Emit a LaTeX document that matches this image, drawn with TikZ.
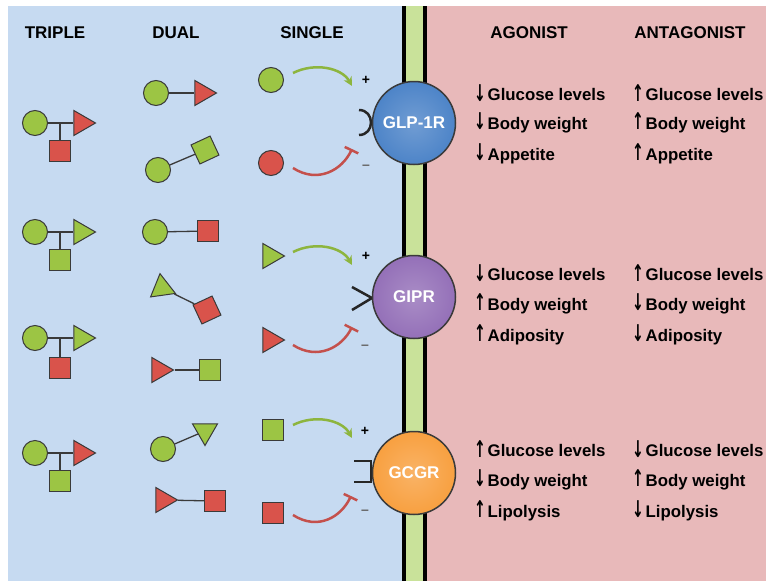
\documentclass[tikz,border=0pt]{standalone}
\usepackage{fontspec}
\usepackage{graphicx}
\setmainfont{Liberation Sans}
\newfontfamily\arrfont{DejaVu Sans}
\usetikzlibrary{shapes.geometric,arrows.meta}
\definecolor{bgblue}{HTML}{C6DAF1}
\definecolor{bgpink}{HTML}{E8B9BA}
\definecolor{memgreen}{HTML}{C9E29A}
\definecolor{lgreen}{HTML}{9CC544}
\definecolor{lred}{HTML}{D9534B}
\definecolor{agreen}{HTML}{8DB53E}
\definecolor{ared}{HTML}{C4504C}
\definecolor{rblue}{HTML}{4D84C8}
\definecolor{rpurple}{HTML}{9470B8}
\definecolor{rorange}{HTML}{F8A040}
\definecolor{edgec}{HTML}{3A3A3A}
\newcommand\dnar{\makebox[13.5pt][l]{\raisebox{-0.5pt}{\scalebox{1}[1.65]{\arrfont\bfseries\fontsize{14}{16}\selectfont ↓}}}}
\newcommand\upar{\makebox[13.5pt][l]{\raisebox{-0.5pt}{\scalebox{1}[1.65]{\arrfont\bfseries\fontsize{14}{16}\selectfont ↑}}}}
\begin{document}
\begin{tikzpicture}[x=1pt,y=-1pt,
  lig/.style={draw=edgec, line width=1pt, inner sep=0pt},
  circ/.style={lig, circle, minimum size=25pt},
  sq/.style={lig, rectangle, minimum size=21pt},
  tri/.style={lig, regular polygon, regular polygon sides=3, minimum size=29pt, shape border rotate=#1},
  tri/.default=-90,
  link/.style={draw=edgec, line width=1.3pt},
  hdr/.style={font=\fontsize{17}{19}\selectfont\bfseries, inner sep=0pt},
  eff/.style={font=\fontsize{16.8}{19}\selectfont\bfseries, anchor=west, inner sep=0pt},
  sign/.style={font=\fontsize{14}{15}\selectfont\bfseries, inner sep=0pt},
  rec/.style={circle, draw=edgec, line width=1.5pt, minimum size=83pt, inner sep=0pt, text=white, font=\fontsize{17}{19}\selectfont\bfseries},
  act/.style={draw=agreen, line width=2.5pt, -{Stealth[length=9pt,width=9pt]}},
  inh/.style={draw=ared, line width=2.5pt, -{Bar[width=15pt]}},
  site/.style={draw=black!85, line width=2.5pt}
]
\useasboundingbox (0,0) rectangle (766,581);
% background
\fill[white] (0,0) rectangle (766,581);
\fill[bgblue] (8,6) rectangle (404,581);
\fill[bgpink] (425,6) rectangle (766,581);
\fill[memgreen] (404,6) rectangle (425,581);
\draw[black, line width=3.5pt] (404,6) -- (404,581);
\draw[black, line width=3.5pt] (425,6) -- (425,581);

% headers
\node[hdr] (hT) at (55,33) {TRIPLE};
\node[hdr] (hD) at (176,33) {DUAL};
\node[hdr] (hS) at (312,33) {SINGLE};
\node[hdr] (hA) at (529,33) {AGONIST};
\node[hdr] (hN) at (690,33) {ANTAGONIST};

% triple
\node[circ, fill=lgreen] (t1c) at (35,123) {};
\node[tri, fill=lred] (t1t) at (81,123) {};
\node[sq, fill=lred] (t1s) at (60,151) {};
\draw[link] (t1c) -- (t1t);
\draw[link] (t1s.north) -- (t1s.north |- t1c);

\node[circ, fill=lgreen] (t2c) at (35,232) {};
\node[tri, fill=lgreen] (t2t) at (81,232) {};
\node[sq, fill=lgreen] (t2s) at (60,260) {};
\draw[link] (t2c) -- (t2t);
\draw[link] (t2s.north) -- (t2s.north |- t2c);

\node[circ, fill=lgreen] (t3c) at (35,338) {};
\node[tri, fill=lgreen] (t3t) at (81,338) {};
\node[sq, fill=lred] (t3s) at (60,368) {};
\draw[link] (t3c) -- (t3t);
\draw[link] (t3s.north) -- (t3s.north |- t3c);

\node[circ, fill=lgreen] (t4c) at (35,453) {};
\node[tri, fill=lred] (t4t) at (81,453) {};
\node[sq, fill=lgreen] (t4s) at (60,481) {};
\draw[link] (t4c) -- (t4t);
\draw[link] (t4s.north) -- (t4s.north |- t4c);

% dual
\node[circ, fill=lgreen] (d1c) at (156,93) {};
\node[tri, fill=lred] (d1t) at (202,93) {};
\draw[link] (d1c) -- (d1t);

\node[circ, fill=lgreen] (d2c) at (158,170) {};
\node[sq, fill=lgreen, rotate=25] (d2s) at (205,150) {};
\draw[link] (d2c) -- (d2s);

\node[circ, fill=lgreen] (d3c) at (155,232) {};
\node[sq, fill=lred] (d3s) at (208,231) {};
\draw[link] (d3c) -- (d3s);

\node[tri=-112, fill=lgreen] (d4t) at (162,288) {};
\node[sq, fill=lred, rotate=25] (d4s) at (207,310) {};
\draw[link] (d4t) -- (d4s);

\node[tri, fill=lred] (d5t) at (159,370) {};
\node[sq, fill=lgreen] (d5s) at (210,370) {};
\draw[link] (d5t) -- (d5s);

\node[circ, fill=lgreen] (d6c) at (163,449) {};
\node[tri=180, fill=lgreen] (d6t) at (205,431) {};
\draw[link] (d6c) -- (d6t);

\node[tri, fill=lred] (d7t) at (163,500) {};
\node[sq, fill=lred] (d7s) at (215,501) {};
\draw[link] (d7t) -- (d7s);

% single ligands
\node[circ, fill=lgreen] (s1a) at (271,80) {};
\node[circ, fill=lred] (s1b) at (271,163) {};
\node[tri, fill=lgreen] (s2a) at (270,256) {};
\node[tri, fill=lred] (s2b) at (270,340) {};
\node[sq, fill=lgreen] (s3a) at (273,430) {};
\node[sq, fill=lred] (s3b) at (273,513) {};

% binding sites
\draw[site] (359,110) .. controls (375,110) and (375,135) .. (359,135);
\draw[site] (352,287) -- (372,298) -- (352,310);
\draw[site] (354,461) -- (371,461) -- (371,482) -- (354,482);

% receptors
\node[rec, inner color=rblue!80!white, outer color=rblue] (glp) at (414,123) {GLP-1R};
\node[rec, inner color=rpurple!80!white, outer color=rpurple] (gip) at (414,297) {GIPR};
\node[rec, inner color=rorange!80!white, outer color=rorange] (gcg) at (414,473) {GCGR};

% arrows
\coordinate (a1s) at (293,73);  \coordinate (a1e) at (352,86);
\coordinate (i1s) at (293,168); \coordinate (i1e) at (352,149);
\coordinate (a2s) at (293,252); \coordinate (a2e) at (352,265);
\coordinate (i2s) at (293,345); \coordinate (i2e) at (352,327);
\coordinate (a3s) at (293,425); \coordinate (a3e) at (352,438);
\coordinate (i3s) at (293,515); \coordinate (i3e) at (351,496);
\draw[act] (a1s) .. controls (315,62) and (342,68) .. (a1e);
\draw[inh] (i1s) .. controls (318,184) and (342,170) .. (i1e);
\draw[act] (a2s) .. controls (315,241) and (342,247) .. (a2e);
\draw[inh] (i2s) .. controls (318,361) and (342,347) .. (i2e);
\draw[act] (a3s) .. controls (315,414) and (342,420) .. (a3e);
\draw[inh] (i3s) .. controls (318,531) and (341,517) .. (i3e);

\node[sign] (p1) at (366,80) {+};
\node[sign, text=black!60] (m1) at (366,167) {–};
\node[sign] (p2) at (366,256) {+};
\node[sign, text=black!60] (m2) at (365,347) {–};
\node[sign] (p3) at (365,431) {+};
\node[sign, text=black!60] (m3) at (365,512) {–};

% effects
\node[eff] (g1a1) at (474,93) {\dnar Glucose levels};
\node[eff] (g1a2) at (474,123) {\dnar Body weight};
\node[eff] (g1a3) at (474,154) {\dnar Appetite};
\node[eff] (g1n1) at (632,93) {\upar Glucose levels};
\node[eff] (g1n2) at (632,123) {\upar Body weight};
\node[eff] (g1n3) at (632,154) {\upar Appetite};

\node[eff] (g2a1) at (474,273) {\dnar Glucose levels};
\node[eff] (g2a2) at (474,304) {\upar Body weight};
\node[eff] (g2a3) at (474,335) {\upar Adiposity};
\node[eff] (g2n1) at (632,273) {\upar Glucose levels};
\node[eff] (g2n2) at (632,304) {\dnar Body weight};
\node[eff] (g2n3) at (632,335) {\dnar Adiposity};

\node[eff] (g3a1) at (474,449) {\upar Glucose levels};
\node[eff] (g3a2) at (474,480) {\dnar Body weight};
\node[eff] (g3a3) at (474,511) {\upar Lipolysis};
\node[eff] (g3n1) at (632,449) {\dnar Glucose levels};
\node[eff] (g3n2) at (632,480) {\upar Body weight};
\node[eff] (g3n3) at (632,511) {\dnar Lipolysis};
\end{tikzpicture}
\end{document}
